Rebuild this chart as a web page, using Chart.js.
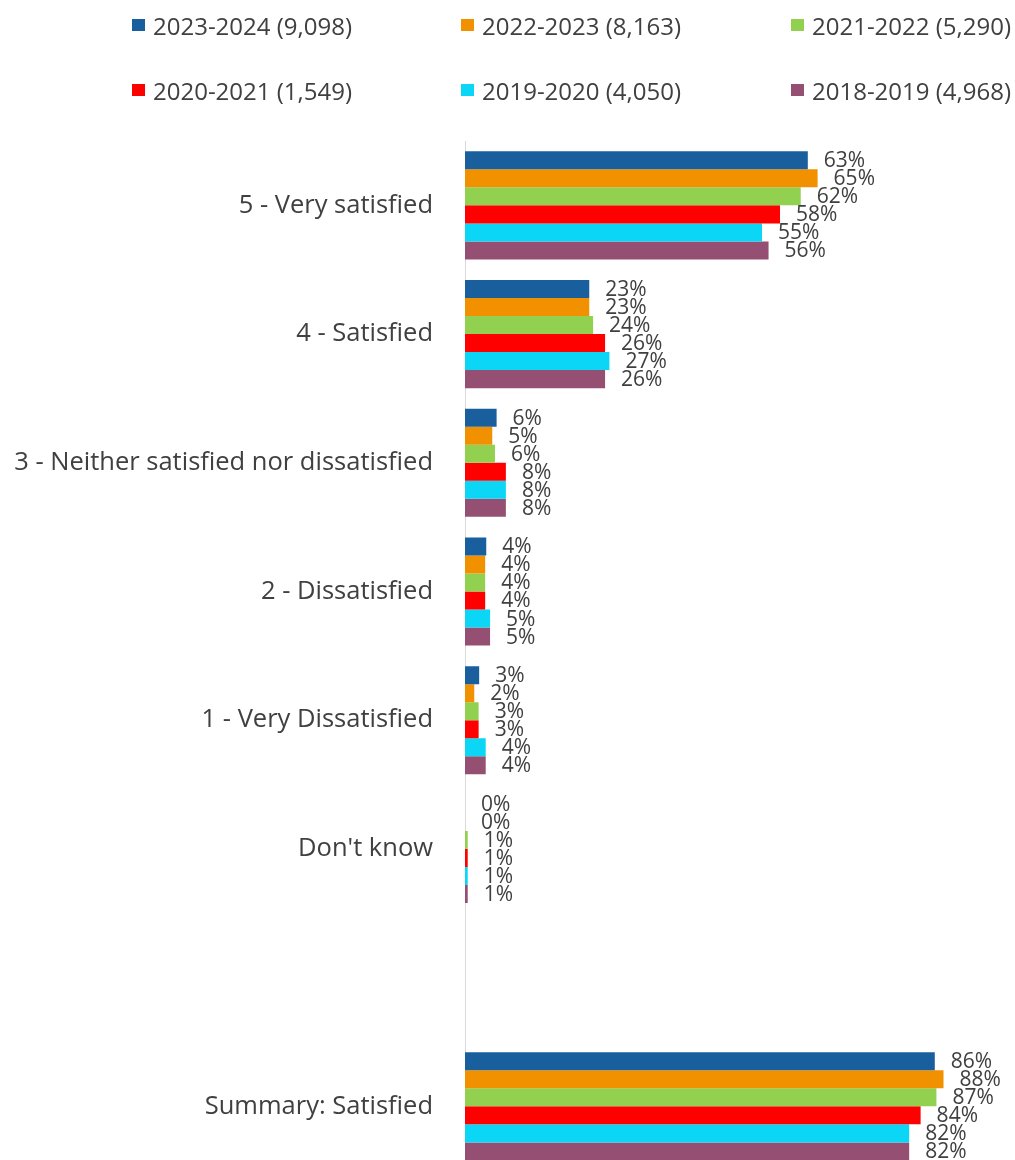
<!DOCTYPE html>
<html>
<head>
<meta charset="utf-8">
<script src="https://cdn.jsdelivr.net/npm/chart.js@4.4.1/dist/chart.umd.min.js"></script>
<style>
  html, body { margin: 0; padding: 0; background: #ffffff; overflow: hidden; }
  #wrap { position: relative; width: 1015px; height: 1218px; }
  #legend { position: absolute; left: 0; top: 0; width: 1015px; height: 120px; font-family: "Open Sans", sans-serif; font-size: 24px; color: #404040; }
  .item { position: absolute; display: flex; align-items: center; height: 30px; white-space: nowrap; }
  .box { width: 13px; height: 12px; margin-right: 8px; flex: none; }
  canvas { position: absolute; left: 0; top: 0; }
</style>
</head>
<body>
<div id="wrap">
  <canvas id="c" width="1015" height="1218"></canvas>
  <div id="legend"></div>
</div>
<script>
const categories = [
  "5 - Very satisfied",
  "4 - Satisfied",
  "3 - Neither satisfied nor dissatisfied",
  "2 - Dissatisfied",
  "1 - Very Dissatisfied",
  "Don't know",
  "",
  "Summary: Satisfied"
];
const seriesNames = [
  "2023-2024 (9,098)",
  "2022-2023 (8,163)",
  "2021-2022 (5,290)",
  "2020-2021 (1,549)",
  "2019-2020 (4,050)",
  "2018-2019 (4,968)"
];
const seriesColors = ["#1A5F9D", "#F29100", "#92D050", "#FF0000", "#0CD6F6", "#954F72"];

const y2023_2024 = [62.9, 22.8, 5.8, 3.9, 2.6, 0, null, 86.2];
const y2022_2023 = [64.7, 22.8, 5.0, 3.7, 1.7, 0, null, 87.8];
const y2021_2022 = [61.6, 23.5, 5.5, 3.7, 2.5, 0.5, null, 86.5];
const y2020_2021 = [57.8, 25.7, 7.5, 3.7, 2.5, 0.5, null, 83.6];
const y2019_2020 = [54.5, 26.5, 7.5, 4.6, 3.8, 0.5, null, 81.5];
const y2018_2019 = [55.7, 25.7, 7.5, 4.6, 3.8, 0.5, null, 81.5];
const seriesValues = [y2023_2024, y2022_2023, y2021_2022, y2020_2021, y2019_2020, y2018_2019];

const xMin = 0, xMax = 100;

// HTML legend (3 columns x 2 rows)
const legendCols = [132, 461, 791];
const legendRows = [10, 75];
const legendEl = document.getElementById('legend');
seriesNames.forEach((name, i) => {
  const it = document.createElement('div');
  it.className = 'item';
  it.style.left = legendCols[i % 3] + 'px';
  it.style.top = legendRows[Math.floor(i / 3)] + 'px';
  const b = document.createElement('span');
  b.className = 'box';
  b.style.background = seriesColors[i];
  const t = document.createElement('span');
  t.textContent = name;
  it.appendChild(b);
  it.appendChild(t);
  legendEl.appendChild(it);
});

const valueLabels = {
  id: 'valueLabels',
  afterDatasetsDraw(chart) {
    const ctx = chart.ctx;
    ctx.save();
    ctx.font = '21px "Open Sans", sans-serif';
    ctx.fillStyle = '#404040';
    ctx.textAlign = 'left';
    ctx.textBaseline = 'middle';
    chart.data.datasets.forEach((ds, di) => {
      const meta = chart.getDatasetMeta(di);
      meta.data.forEach((el, i) => {
        const v = ds.data[i];
        if (v === null || v === undefined) return;
        ctx.fillText(Math.round(v) + '%', el.x + 16, el.y + 1);
      });
    });
    ctx.restore();
  }
};

new Chart(document.getElementById('c'), {
  type: 'bar',
  data: {
    labels: categories,
    datasets: seriesNames.map((n, i) => ({
      label: n,
      data: seriesValues[i],
      backgroundColor: seriesColors[i],
      borderWidth: 0,
      categoryPercentage: 0.84,
      barPercentage: 1.0
    }))
  },
  options: {
    indexAxis: 'y',
    responsive: false,
    animation: false,
    layout: { padding: { top: 141, bottom: 11, left: 0, right: 5 } },
    plugins: { legend: { display: false }, tooltip: { enabled: false } },
    scales: {
      x: { display: false, min: xMin, max: xMax },
      y: {
        grid: { display: false, drawTicks: false },
        border: { display: true, color: '#D9D9D9', width: 1 },
        ticks: {
          padding: 32,
          color: '#404040',
          font: { family: '"Open Sans", sans-serif', size: 25.5 }
        },
        afterFit(scale) { scale.width = 465; }
      }
    }
  },
  plugins: [valueLabels]
});
</script>
</body>
</html>
